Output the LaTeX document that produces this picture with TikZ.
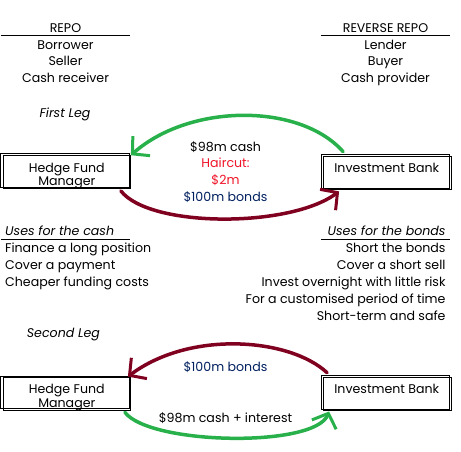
\documentclass[tikz,border=0pt]{standalone}
\usepackage{fontspec}
\setmainfont{Poppins}
\usetikzlibrary{arrows.meta}
\definecolor{armgreen}{RGB}{40,176,74}
\definecolor{armred}{RGB}{128,0,32}
\definecolor{navy}{RGB}{0,32,96}
\definecolor{hred}{RGB}{240,20,40}
\begin{document}
\begin{tikzpicture}[x=1pt,y=-1pt,
  txt/.style={font=\fontsize{12.6}{14}\selectfont, inner sep=0pt, anchor=base},
  txtl/.style={txt, anchor=base west},
  txtr/.style={txt, anchor=base east},
  itx/.style={font=\fontsize{12.6}{14}\selectfont\itshape},
  party/.style={draw, line width=0.75pt, inner sep=0pt, minimum width=127.5pt, minimum height=33pt},
  ghost/.style={draw, line width=0.75pt},
  rule/.style={line width=0.8pt},
  flow/.style={line width=3.5pt, line cap=round, -{Straight Barb[length=12pt,width=26pt,line width=3pt]}},
]
\useasboundingbox (0,0) rectangle (461,451);
\fill[white] (0,0) rectangle (461,451);

% headers
\node[txt] (repo) at (65.5,32) {REPO};
\draw[rule] (1,35) coordinate (rl1) -- (130,35) coordinate (rl2);
\node[txt] (borrower) at (65.5,49) {Borrower};
\node[txt] (seller) at (65.5,65.5) {Seller};
\node[txt] (cashrec) at (65.5,82.5) {Cash receiver};

\node[txt] (rrepo) at (385.5,32) {REVERSE REPO};
\draw[rule] (321,35) coordinate (rr1) -- (450,35) coordinate (rr2);
\node[txt] (lender) at (385.5,49) {Lender};
\node[txt] (buyer) at (385.5,65.5) {Buyer};
\node[txt] (cashprov) at (385.5,82.5) {Cash provider};

\node[txt,itx] (firstleg) at (65,117) {First Leg};

% first leg boxes
\draw[ghost] (0.8,153.8) rectangle (129.5,187.6);
\node[party] (hfm1) at (66.8,172.1) {};
\node[txt] (hfm1a) at (66.8,172) {Hedge Fund};
\node[txt] (hfm1b) at (66.8,185.5) {Manager};

\draw[ghost] (321.7,154.3) rectangle (449.5,188);
\node[party] (ib1) at (387.2,172.5) {};
\node[txt] (ib1a) at (386.8,172.6) {Investment Bank};

\node[txt] (cash98) at (225.5,151) {\$98m cash};
\node[txt, text=hred] (haircut) at (225.5,167.5) {Haircut:};
\node[txt, text=hred] (two) at (225.5,184.5) {\$2m};
\node[txt, text=navy] (bonds1) at (225.5,201) {\$100m bonds};

\draw[flow, armgreen] ([shift={(20,-4)}]ib1.north west) .. controls (300,103) and (190,103) .. (hfm1.north east);
\draw[flow, armred] ([shift={(-10,2)}]hfm1.south east) .. controls (150,228) and (290,228) .. ([shift={(16,2)}]ib1.south west);

% uses
\node[txtl,itx] (usecash) at (5,235.3) {Uses for the cash};
\draw[rule] (1,239) coordinate (ul1) -- (130,239) coordinate (ul2);
\node[txtl] (c1) at (5,252.3) {Finance a long position};
\node[txtl] (c2) at (5,269.3) {Cover a payment};
\node[txtl] (c3) at (5,286.3) {Cheaper funding costs};

\node[txtr,itx] (usebonds) at (445.7,235.3) {Uses for the bonds};
\draw[rule] (321,239) coordinate (ur1) -- (450,239) coordinate (ur2);
\node[txtr] (b1) at (445.7,252.3) {Short the bonds};
\node[txtr] (b2) at (445.7,269.3) {Cover a short sell};
\node[txtr] (b3) at (445.7,286.3) {Invest overnight with little risk};
\node[txtr] (b4) at (445.7,303) {For a customised period of time};
\node[txtr] (b5) at (445.7,320) {Short-term and safe};

\node[txtl,itx] (secondleg) at (26.7,337.3) {Second Leg};

% second leg boxes
\draw[ghost] (0.8,376.7) rectangle (129.5,408.6);
\node[party] (hfm2) at (66.8,393.5) {};
\node[txt] (hfm2a) at (66.8,393.3) {Hedge Fund};
\node[txt] (hfm2b) at (66.8,407.3) {Manager};

\draw[ghost] (321.7,375.7) rectangle (449.5,409);
\node[party] (ib2) at (387.2,393.6) {};
\node[txt] (ib2a) at (386.8,393.3) {Investment Bank};

\node[txt, text=navy] (bonds2) at (225.5,371.7) {\$100m bonds};
\node[txt] (cash2) at (225.5,422.7) {\$98m cash + interest};

\draw[flow, armred] ([shift={(4,-4)}]ib2.north west) .. controls (290,338) and (190,330) .. ([shift={(-3,0)}]hfm2.north east);
\draw[flow, armgreen] ([shift={(-6,2)}]hfm2.south east) .. controls (150,445) and (315,448) .. ([shift={(6,1)}]ib2.south west);
\end{tikzpicture}
\end{document}
